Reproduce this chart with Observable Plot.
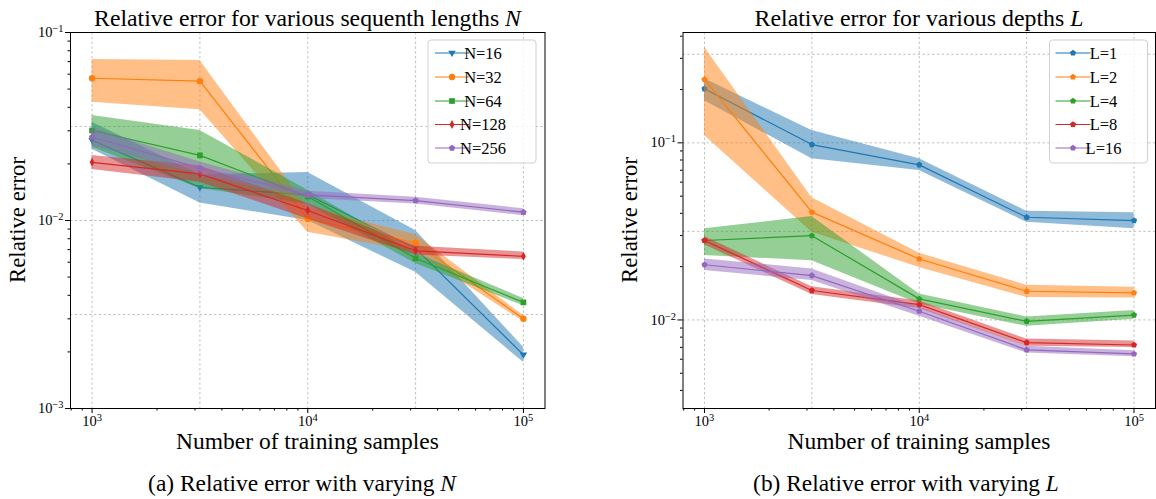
<!DOCTYPE html>
<html><head><meta charset="utf-8">
<script src="https://cdn.jsdelivr.net/npm/d3@7"></script>
<script src="https://cdn.jsdelivr.net/npm/@observablehq/plot@0.6"></script>
<style>
body{margin:0;background:#fff;}
#wrap{position:relative;width:1156px;height:499px;overflow:hidden;font-family:"Liberation Serif",serif;color:#000;background:#fff;}
.lab{position:absolute;white-space:nowrap;line-height:1;}
.chart{position:absolute;top:0;}
</style></head><body><div id="wrap"></div>
<script>
// ---------------- data ----------------
const samples = [1000, 3162, 10000, 31623, 100000];
const colors = ["#1f77b4", "#ff7f0e", "#2ca02c", "#d62728", "#9467bd"];

const nSeries = ["N=16", "N=32", "N=64", "N=128", "N=256"];
const nMean = [
  [0.0267, 0.0150, 0.0137, 0.00710, 0.00193],
  [0.0571, 0.0551, 0.0102, 0.00760, 0.00300],
  [0.0301, 0.0222, 0.0134, 0.00630, 0.00367],
  [0.0204, 0.0177, 0.0113, 0.00690, 0.00645],
  [0.0278, 0.0190, 0.0137, 0.01276, 0.01107]
];
const nLow = [
  [0.0239, 0.0124, 0.0100, 0.00530, 0.00176],
  [0.0426, 0.0388, 0.00867, 0.00680, 0.00290],
  [0.0245, 0.0148, 0.0122, 0.00590, 0.00352],
  [0.0187, 0.0160, 0.0102, 0.00655, 0.00620],
  [0.0250, 0.0175, 0.0131, 0.01225, 0.01060]
];
const nHigh = [
  [0.0333, 0.0175, 0.0180, 0.00885, 0.00212],
  [0.0718, 0.0710, 0.0117, 0.00840, 0.00312],
  [0.0362, 0.0301, 0.0145, 0.00670, 0.00385],
  [0.0222, 0.0195, 0.0123, 0.00730, 0.00680],
  [0.0310, 0.0205, 0.0143, 0.01330, 0.01155]
];

const lSeries = ["L=1", "L=2", "L=4", "L=8", "L=16"];
const lMean = [
  [0.2018, 0.0978, 0.0751, 0.0380, 0.0364],
  [0.228, 0.0406, 0.0221, 0.01452, 0.01422],
  [0.0281, 0.0299, 0.01315, 0.00982, 0.01066],
  [0.0281, 0.01466, 0.0122, 0.00745, 0.00722],
  [0.0205, 0.0178, 0.0112, 0.00678, 0.00643]
];
const lLow = [
  [0.173, 0.0812, 0.0697, 0.0356, 0.0327],
  [0.110, 0.0313, 0.0198, 0.0134, 0.0133],
  [0.0231, 0.0216, 0.0123, 0.0092, 0.0101],
  [0.0266, 0.0139, 0.0116, 0.0071, 0.0070],
  [0.0190, 0.0167, 0.0105, 0.0065, 0.0062]
];
const lHigh = [
  [0.2298, 0.1173, 0.0812, 0.0411, 0.0403],
  [0.347, 0.0489, 0.0238, 0.0157, 0.0153],
  [0.0327, 0.0384, 0.0140, 0.0104, 0.0113],
  [0.0296, 0.0154, 0.0128, 0.0078, 0.0076],
  [0.0221, 0.0194, 0.0118, 0.0071, 0.0067]
];

const majorX = [1e3, 1e4, 1e5];
const majorXLabels = ["10^3", "10^4", "10^5"];
const gridX = [1e3, 10 ** 3.5, 1e4, 10 ** 4.5, 1e5];
const minorX = [800, 900, 2000, 3000, 4000, 5000, 6000, 7000, 8000, 9000,
  20000, 30000, 40000, 50000, 60000, 70000, 80000, 90000];

const leftMajorY = [1e-3, 1e-2, 1e-1];
const leftMajorYLabels = ["10^-3", "10^-2", "10^-1"];
const leftGridY = [10 ** -2.5, 1e-2, 10 ** -1.5];
const leftMinorY = [0.002, 0.003, 0.004, 0.005, 0.006, 0.007, 0.008, 0.009,
  0.02, 0.03, 0.04, 0.05, 0.06, 0.07, 0.08, 0.09];

const rightMajorY = [1e-2, 1e-1];
const rightMajorYLabels = ["10^-2", "10^-1"];
const rightGridY = [1e-2, 10 ** -1.5, 1e-1, 10 ** -0.5];
const rightMinorY = [0.004, 0.005, 0.006, 0.007, 0.008, 0.009,
  0.02, 0.03, 0.04, 0.05, 0.06, 0.07, 0.08, 0.09, 0.2, 0.3, 0.4];

// ---------------- symbols ----------------
const poly = (pts) => ({
  draw(ctx, size) {
    const r = Math.sqrt(size / Math.PI);
    pts.forEach(([x, y], i) => i ? ctx.lineTo(x * r, y * r) : ctx.moveTo(x * r, y * r));
    ctx.closePath();
  }
});
const pentagon = poly(d3.range(5).map(i => {
  const a = -Math.PI / 2 + i * 2 * Math.PI / 5;
  return [Math.cos(a) * 1.2, Math.sin(a) * 1.2];
}));
const triDown = poly([[0, 1.35], [-1.25, -0.75], [1.25, -0.75]]);
const square = poly([[-0.95, -0.95], [0.95, -0.95], [0.95, 0.95], [-0.95, 0.95]]);
const thinDiamond = poly([[0, -1.4], [0.75, 0], [0, 1.4], [-0.75, 0]]);
const circle = d3.symbolCircle;

const FONT = '"Liberation Serif", serif';
const wrap = document.getElementById("wrap");

function tickFmt(values, labels) {
  return (d) => labels[values.indexOf(d)] ?? "";
}

function buildChart(cfg) {
  const rows = [];
  cfg.series.forEach((s, i) => samples.forEach((x, j) =>
    rows.push({series: s, x, y: cfg.mean[i][j], lo: cfg.low[i][j], hi: cfg.high[i][j]})));
  const gridStyle = {stroke: "#b0b0b0", strokeWidth: 0.8, strokeDasharray: "2.4,2.4"};
  const marks = [
    Plot.ruleX(gridX, gridStyle),
    Plot.ruleY(cfg.gridY, gridStyle)
  ];
  cfg.series.forEach((s, i) => {
    const d = rows.filter(r => r.series === s);
    marks.push(Plot.areaY(d, {x: "x", y1: "lo", y2: "hi", fill: colors[i], fillOpacity: 0.5}));
    marks.push(Plot.line(d, {x: "x", y: "y", stroke: colors[i], strokeWidth: 1.2}));
    marks.push(Plot.dot(d, {x: "x", y: "y", r: cfg.r[i], symbol: cfg.symbols[i], fill: colors[i], stroke: "none"}));
  });
  marks.push(Plot.frame({stroke: "black", strokeWidth: 1}));
  marks.push(Plot.axisX(majorX, {tickSize: 5, tickPadding: 2, tickFormat: tickFmt(majorX, majorXLabels), label: null, fontSize: 14.5, fontFamily: FONT}));
  marks.push(Plot.axisX(minorX, {tickSize: 2.5, tickFormat: () => "", label: null}));
  marks.push(Plot.axisY(cfg.majorY, {tickSize: 5, tickPadding: 2, tickFormat: tickFmt(cfg.majorY, cfg.majorYLabels), label: null, fontSize: 14.5, fontFamily: FONT}));
  marks.push(Plot.axisY(cfg.minorY, {tickSize: 2.5, tickFormat: () => "", label: null}));

  const svg = Plot.plot({
    width: 578, height: 430,
    marginTop: 32, marginBottom: 22, marginLeft: cfg.ml, marginRight: cfg.mr,
    x: {type: "log", domain: [10 ** 2.9, 10 ** 5.1]},
    y: {type: "log", domain: cfg.yDomain},
    style: {fontFamily: FONT, background: "transparent", overflow: "visible", color: "black"},
    marks
  });

  // superscripts in tick labels
  d3.select(svg).selectAll("text").each(function () {
    const t = this.textContent;
    if (t.includes("^")) {
      const [b, e] = t.split("^");
      const sel = d3.select(this);
      sel.text(b);
      sel.append("tspan").attr("dy", "-0.48em").attr("font-size", "0.72em").text(e.replace("-", "\u2212"));
    }
  });

  // legend
  const lg = d3.select(svg).append("g").attr("font-family", FONT);
  const L = cfg.legend;
  lg.append("rect").attr("x", L.x0).attr("y", 40).attr("width", L.x1 - L.x0).attr("height", 123)
    .attr("rx", 3).attr("fill", "white").attr("fill-opacity", 0.8).attr("stroke", "#d0d0d0").attr("stroke-width", 1);
  const ys = [53, 77, 101, 124.5, 148];
  cfg.series.forEach((s, i) => {
    lg.append("line").attr("x1", L.l0).attr("x2", L.l1).attr("y1", ys[i]).attr("y2", ys[i])
      .attr("stroke", colors[i]).attr("stroke-width", 1.2);
    lg.append("path").attr("transform", `translate(${(L.l0 + L.l1) / 2},${ys[i]})`)
      .attr("d", d3.symbol(cfg.symbols[i], Math.PI * cfg.r[i] * cfg.r[i])()).attr("fill", colors[i]);
    lg.append("text").attr("x", L.t).attr("y", ys[i]).attr("dy", "0.35em").attr("font-size", 16.5).text(s);
  });

  svg.classList.add("chart");
  svg.style.left = cfg.left + "px";
  wrap.appendChild(svg);
}

buildChart({
  series: nSeries, mean: nMean, low: nLow, high: nHigh,
  symbols: [triDown, circle, square, thinDiamond, pentagon],
  r: [3, 3.2, 3, 3.2, 2.8],
  yDomain: [1e-3, 1e-1], majorY: leftMajorY, majorYLabels: leftMajorYLabels,
  minorY: leftMinorY, gridY: leftGridY,
  ml: 70, mr: 33.5, left: 0,
  legend: {x0: 428, x1: 536, l0: 435, l1: 469, t: 483}
});
buildChart({
  series: lSeries, mean: lMean, low: lLow, high: lHigh,
  symbols: [pentagon, pentagon, pentagon, pentagon, pentagon],
  r: [2.7, 2.7, 2.7, 2.7, 2.7],
  yDomain: [10 ** -2.5, 10 ** -0.377], majorY: rightMajorY, majorYLabels: rightMajorYLabels,
  minorY: rightMinorY, gridY: rightGridY,
  ml: 104.5, mr: 1, left: 578,
  legend: {x0: 471.5, x1: 569.5, l0: 477.5, l1: 512.5, t: 525.5}
});

// ---------------- text labels ----------------
function addLabel(html, cx, cy, targetW, rotate, basePx) {
  const el = document.createElement("div");
  el.className = "lab";
  el.innerHTML = html;
  el.style.fontSize = basePx + "px";
  wrap.appendChild(el);
  const w = el.getBoundingClientRect().width;
  el.style.fontSize = (basePx * targetW / w) + "px";
  el.style.left = cx + "px";
  el.style.top = cy + "px";
  el.style.transform = "translate(-50%,-50%)" + (rotate ? " rotate(-90deg)" : "");
}
addLabel("Relative error for various sequenth lengths <i>N</i>", 307.5, 19, 427, false, 20);
addLabel("Relative error for various depths <i>L</i>", 919, 19, 329, false, 20);
addLabel("Number of training samples", 307.5, 442, 263, false, 20);
addLabel("Number of training samples", 919, 442, 263, false, 20);
addLabel("Relative error", 18, 220, 126, true, 20);
addLabel("Relative error", 630, 220, 126, true, 20);
addLabel("(a) Relative error with varying <i>N</i>", 302, 484, 308, false, 18);
addLabel("(b) Relative error with varying <i>L</i>", 906, 484, 306, false, 18);
</script>
</body></html>
